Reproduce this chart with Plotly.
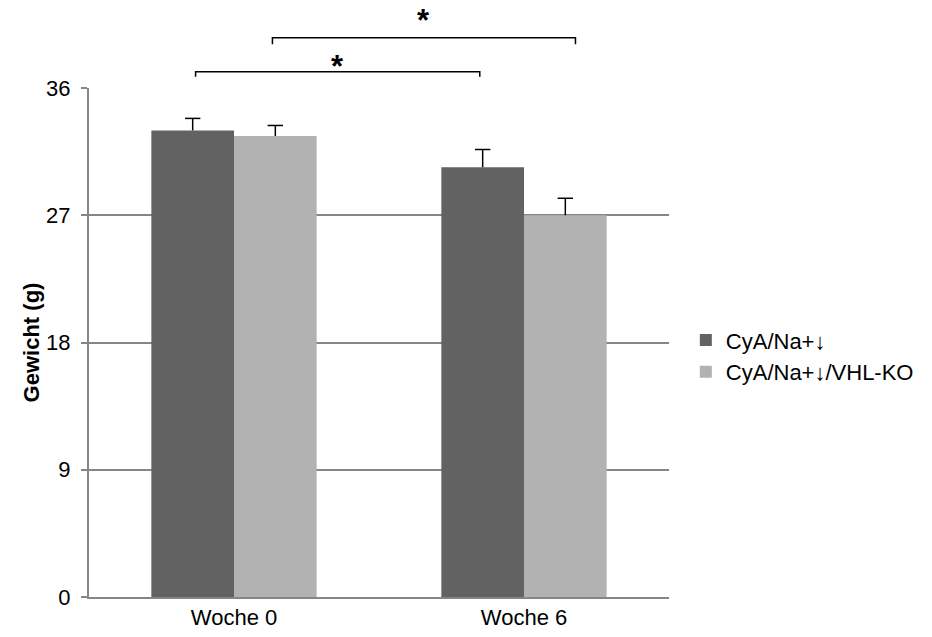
import plotly.graph_objects as go

categories = ["Woche 0", "Woche 6"]
series_names = ["CyA/Na+↓", "CyA/Na+↓/VHL-KO"]
values_a = [33.0, 30.4]
errors_a = [0.85, 1.25]
values_b = [32.6, 27.0]
errors_b = [0.75, 1.2]
y_ticks = [0, 9, 18, 27, 36]
colors = ["#626262", "#b2b2b2"]

FONT = "Liberation Sans, Arial, sans-serif"

bargap = 0.43
bw = (1 - bargap) / 2
off = bw / 2
xpos = list(range(len(categories)))

fig = go.Figure()
for k, (name, vals, errs, col) in enumerate(zip(series_names, [values_a, values_b], [errors_a, errors_b], colors)):
    fig.add_trace(go.Bar(
        x=xpos, y=vals, name=name,
        marker=dict(color=col, line=dict(width=0)),
        error_y=dict(type="data", array=errs, arrayminus=[0] * len(errs), symmetric=False,
                     color="black", thickness=1.5, width=0),
    ))
for k, (vals, errs) in enumerate(zip([values_a, values_b], [errors_a, errors_b])):
    sgn = -1 if k == 0 else 1
    fig.add_trace(go.Scatter(
        x=[i + sgn * off for i in xpos], y=[v + e for v, e in zip(vals, errs)],
        mode="markers", showlegend=False, hoverinfo="skip",
        marker=dict(symbol="line-ew", size=11, line=dict(color="black", width=1.5)),
    ))

xmin, xmax = -0.5, len(categories) - 0.5
ymin, ymax = 0, 36

def xp(v):
    return (v - xmin) / (xmax - xmin)

def yp(v):
    return (v - ymin) / (ymax - ymin)

brackets = [
    (xp(0 - off + 0.01), xp(1 - off - 0.01), 37.15, 0.35, 37.55),
    (xp(0 + off - 0.01), xp(1 + off + 0.035), 39.55, 0.45, 40.8),
]
shapes = []
annotations = []
for x0, x1, lvl, drop, sy in brackets:
    shapes.append(dict(type="path", xref="paper", yref="paper",
                       path=f"M {x0},{yp(lvl - drop)} L {x0},{yp(lvl)} L {x1},{yp(lvl)} L {x1},{yp(lvl - drop)}",
                       line=dict(color="black", width=1.5)))
    annotations.append(dict(xref="paper", yref="paper", x=(x0 + x1) / 2, y=yp(sy),
                            text="<b>*</b>", showarrow=False, font=dict(size=31, family=FONT, color="black"),
                            yanchor="middle", xanchor="center"))

fig.update_layout(
    width=932, height=637,
    margin=dict(l=89, r=263, t=88, b=40, autoexpand=False),
    paper_bgcolor="white", plot_bgcolor="white",
    barmode="group", bargap=bargap, bargroupgap=0,
    font=dict(family=FONT, size=22, color="black"),
    shapes=shapes, annotations=annotations,
    legend=dict(x=1.029, y=0.473, xanchor="left", yanchor="middle",
                font=dict(size=22, family=FONT, color="black"), itemwidth=30),
    showlegend=True,
)
fig.update_xaxes(range=[xmin, xmax], tickvals=xpos, ticktext=categories, automargin=False,
                 showline=True, linecolor="#868686", linewidth=2, showgrid=False, zeroline=False,
                 ticks="", tickfont=dict(size=22), ticklabelstandoff=0)
fig.update_yaxes(range=[ymin, ymax], tickvals=y_ticks, showgrid=True, gridcolor="#868686", gridwidth=1.5,
                 automargin=False,
                 showline=True, linecolor="#868686", linewidth=2, ticks="outside", ticklen=6,
                 tickcolor="#868686", tickwidth=1.5, tickfont=dict(size=22), ticklabelstandoff=6,
                 title=dict(text="<b>Gewicht (g)</b>", font=dict(size=22), standoff=0), zeroline=False)

fig.write_html("out.html")
